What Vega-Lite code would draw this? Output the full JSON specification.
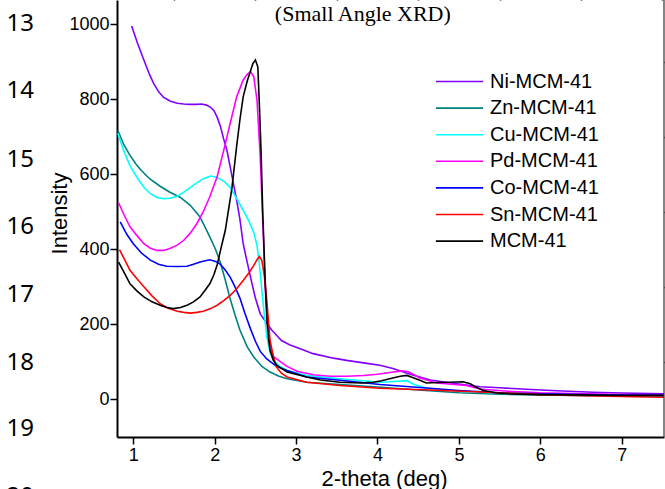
{
  "$schema": "https://vega.github.io/schema/vega-lite/v6.json",
  "width": 547,
  "height": 437,
  "autosize": {"type": "none"},
  "padding": {"left": 117, "top": 0, "right": 1, "bottom": 52},
  "config": {"view": {"stroke": null}, "font": "Liberation Sans"},
  "datasets": {
    "xrd": [
      {"sample": "Ni-MCM-41", "two_theta": 0.98, "intensity": 995},
      {"sample": "Ni-MCM-41", "two_theta": 1.05, "intensity": 950},
      {"sample": "Ni-MCM-41", "two_theta": 1.13, "intensity": 904},
      {"sample": "Ni-MCM-41", "two_theta": 1.2, "intensity": 865},
      {"sample": "Ni-MCM-41", "two_theta": 1.25, "intensity": 842},
      {"sample": "Ni-MCM-41", "two_theta": 1.31, "intensity": 820},
      {"sample": "Ni-MCM-41", "two_theta": 1.37, "intensity": 805},
      {"sample": "Ni-MCM-41", "two_theta": 1.45, "intensity": 795},
      {"sample": "Ni-MCM-41", "two_theta": 1.54, "intensity": 789},
      {"sample": "Ni-MCM-41", "two_theta": 1.62, "intensity": 787},
      {"sample": "Ni-MCM-41", "two_theta": 1.7, "intensity": 786},
      {"sample": "Ni-MCM-41", "two_theta": 1.78, "intensity": 786},
      {"sample": "Ni-MCM-41", "two_theta": 1.84, "intensity": 787},
      {"sample": "Ni-MCM-41", "two_theta": 1.9, "intensity": 784},
      {"sample": "Ni-MCM-41", "two_theta": 1.95, "intensity": 778},
      {"sample": "Ni-MCM-41", "two_theta": 1.99, "intensity": 770},
      {"sample": "Ni-MCM-41", "two_theta": 2.03, "intensity": 752},
      {"sample": "Ni-MCM-41", "two_theta": 2.07, "intensity": 728},
      {"sample": "Ni-MCM-41", "two_theta": 2.11, "intensity": 694},
      {"sample": "Ni-MCM-41", "two_theta": 2.15, "intensity": 664},
      {"sample": "Ni-MCM-41", "two_theta": 2.19, "intensity": 620},
      {"sample": "Ni-MCM-41", "two_theta": 2.23, "intensity": 575},
      {"sample": "Ni-MCM-41", "two_theta": 2.27, "intensity": 531},
      {"sample": "Ni-MCM-41", "two_theta": 2.31, "intensity": 480},
      {"sample": "Ni-MCM-41", "two_theta": 2.35, "intensity": 415},
      {"sample": "Ni-MCM-41", "two_theta": 2.4, "intensity": 365},
      {"sample": "Ni-MCM-41", "two_theta": 2.44, "intensity": 326},
      {"sample": "Ni-MCM-41", "two_theta": 2.5, "intensity": 270},
      {"sample": "Ni-MCM-41", "two_theta": 2.56, "intensity": 228},
      {"sample": "Ni-MCM-41", "two_theta": 2.64, "intensity": 203},
      {"sample": "Ni-MCM-41", "two_theta": 2.7, "intensity": 185},
      {"sample": "Ni-MCM-41", "two_theta": 2.76, "intensity": 171},
      {"sample": "Ni-MCM-41", "two_theta": 2.82, "intensity": 157},
      {"sample": "Ni-MCM-41", "two_theta": 2.92, "intensity": 146},
      {"sample": "Ni-MCM-41", "two_theta": 3.05, "intensity": 135},
      {"sample": "Ni-MCM-41", "two_theta": 3.21, "intensity": 122},
      {"sample": "Ni-MCM-41", "two_theta": 3.46, "intensity": 110},
      {"sample": "Ni-MCM-41", "two_theta": 3.62, "intensity": 104},
      {"sample": "Ni-MCM-41", "two_theta": 3.87, "intensity": 96},
      {"sample": "Ni-MCM-41", "two_theta": 4.03, "intensity": 91},
      {"sample": "Ni-MCM-41", "two_theta": 4.2, "intensity": 82},
      {"sample": "Ni-MCM-41", "two_theta": 4.32, "intensity": 73},
      {"sample": "Ni-MCM-41", "two_theta": 4.42, "intensity": 66},
      {"sample": "Ni-MCM-41", "two_theta": 4.52, "intensity": 60},
      {"sample": "Ni-MCM-41", "two_theta": 4.65, "intensity": 52},
      {"sample": "Ni-MCM-41", "two_theta": 4.8, "intensity": 47},
      {"sample": "Ni-MCM-41", "two_theta": 5.0, "intensity": 41},
      {"sample": "Ni-MCM-41", "two_theta": 5.26, "intensity": 34},
      {"sample": "Ni-MCM-41", "two_theta": 5.5, "intensity": 31},
      {"sample": "Ni-MCM-41", "two_theta": 5.83, "intensity": 27},
      {"sample": "Ni-MCM-41", "two_theta": 6.2, "intensity": 23},
      {"sample": "Ni-MCM-41", "two_theta": 6.65, "intensity": 19},
      {"sample": "Ni-MCM-41", "two_theta": 7.0, "intensity": 17},
      {"sample": "Ni-MCM-41", "two_theta": 7.52, "intensity": 15},

      {"sample": "Zn-MCM-41", "two_theta": 0.81, "intensity": 717},
      {"sample": "Zn-MCM-41", "two_theta": 0.88, "intensity": 680},
      {"sample": "Zn-MCM-41", "two_theta": 0.96, "intensity": 650},
      {"sample": "Zn-MCM-41", "two_theta": 1.03, "intensity": 628},
      {"sample": "Zn-MCM-41", "two_theta": 1.09, "intensity": 612},
      {"sample": "Zn-MCM-41", "two_theta": 1.2, "intensity": 588},
      {"sample": "Zn-MCM-41", "two_theta": 1.33, "intensity": 568},
      {"sample": "Zn-MCM-41", "two_theta": 1.45, "intensity": 552},
      {"sample": "Zn-MCM-41", "two_theta": 1.58, "intensity": 538},
      {"sample": "Zn-MCM-41", "two_theta": 1.7, "intensity": 517},
      {"sample": "Zn-MCM-41", "two_theta": 1.82, "intensity": 486},
      {"sample": "Zn-MCM-41", "two_theta": 1.94, "intensity": 433},
      {"sample": "Zn-MCM-41", "two_theta": 2.01, "intensity": 400},
      {"sample": "Zn-MCM-41", "two_theta": 2.07, "intensity": 365},
      {"sample": "Zn-MCM-41", "two_theta": 2.13, "intensity": 318},
      {"sample": "Zn-MCM-41", "two_theta": 2.19, "intensity": 268},
      {"sample": "Zn-MCM-41", "two_theta": 2.25, "intensity": 225},
      {"sample": "Zn-MCM-41", "two_theta": 2.31, "intensity": 185},
      {"sample": "Zn-MCM-41", "two_theta": 2.4, "intensity": 140},
      {"sample": "Zn-MCM-41", "two_theta": 2.48, "intensity": 113},
      {"sample": "Zn-MCM-41", "two_theta": 2.58, "intensity": 88},
      {"sample": "Zn-MCM-41", "two_theta": 2.68, "intensity": 73},
      {"sample": "Zn-MCM-41", "two_theta": 2.79, "intensity": 62},
      {"sample": "Zn-MCM-41", "two_theta": 2.89, "intensity": 55},
      {"sample": "Zn-MCM-41", "two_theta": 3.13, "intensity": 46},
      {"sample": "Zn-MCM-41", "two_theta": 3.54, "intensity": 40},
      {"sample": "Zn-MCM-41", "two_theta": 4.0, "intensity": 33},
      {"sample": "Zn-MCM-41", "two_theta": 4.5, "intensity": 25},
      {"sample": "Zn-MCM-41", "two_theta": 5.0, "intensity": 18},
      {"sample": "Zn-MCM-41", "two_theta": 5.5, "intensity": 14},
      {"sample": "Zn-MCM-41", "two_theta": 6.0, "intensity": 12},
      {"sample": "Zn-MCM-41", "two_theta": 7.0, "intensity": 9},
      {"sample": "Zn-MCM-41", "two_theta": 7.52, "intensity": 8},

      {"sample": "Cu-MCM-41", "two_theta": 0.81, "intensity": 709},
      {"sample": "Cu-MCM-41", "two_theta": 0.88, "intensity": 664},
      {"sample": "Cu-MCM-41", "two_theta": 0.96, "intensity": 622},
      {"sample": "Cu-MCM-41", "two_theta": 1.05, "intensity": 590},
      {"sample": "Cu-MCM-41", "two_theta": 1.13, "intensity": 565},
      {"sample": "Cu-MCM-41", "two_theta": 1.21, "intensity": 548},
      {"sample": "Cu-MCM-41", "two_theta": 1.29, "intensity": 538},
      {"sample": "Cu-MCM-41", "two_theta": 1.37, "intensity": 535},
      {"sample": "Cu-MCM-41", "two_theta": 1.45, "intensity": 536},
      {"sample": "Cu-MCM-41", "two_theta": 1.54, "intensity": 541},
      {"sample": "Cu-MCM-41", "two_theta": 1.64, "intensity": 555},
      {"sample": "Cu-MCM-41", "two_theta": 1.74, "intensity": 571},
      {"sample": "Cu-MCM-41", "two_theta": 1.86, "intensity": 588},
      {"sample": "Cu-MCM-41", "two_theta": 1.95, "intensity": 595},
      {"sample": "Cu-MCM-41", "two_theta": 2.02, "intensity": 592},
      {"sample": "Cu-MCM-41", "two_theta": 2.07, "intensity": 587},
      {"sample": "Cu-MCM-41", "two_theta": 2.13, "intensity": 578},
      {"sample": "Cu-MCM-41", "two_theta": 2.19, "intensity": 565},
      {"sample": "Cu-MCM-41", "two_theta": 2.27, "intensity": 535},
      {"sample": "Cu-MCM-41", "two_theta": 2.35, "intensity": 504},
      {"sample": "Cu-MCM-41", "two_theta": 2.42, "intensity": 475},
      {"sample": "Cu-MCM-41", "two_theta": 2.48, "intensity": 445},
      {"sample": "Cu-MCM-41", "two_theta": 2.52, "intensity": 410},
      {"sample": "Cu-MCM-41", "two_theta": 2.55, "intensity": 360},
      {"sample": "Cu-MCM-41", "two_theta": 2.58, "intensity": 290},
      {"sample": "Cu-MCM-41", "two_theta": 2.61, "intensity": 225},
      {"sample": "Cu-MCM-41", "two_theta": 2.64, "intensity": 168},
      {"sample": "Cu-MCM-41", "two_theta": 2.68, "intensity": 125},
      {"sample": "Cu-MCM-41", "two_theta": 2.72, "intensity": 105},
      {"sample": "Cu-MCM-41", "two_theta": 2.8, "intensity": 88},
      {"sample": "Cu-MCM-41", "two_theta": 2.89, "intensity": 77},
      {"sample": "Cu-MCM-41", "two_theta": 3.13, "intensity": 64},
      {"sample": "Cu-MCM-41", "two_theta": 3.54, "intensity": 55},
      {"sample": "Cu-MCM-41", "two_theta": 4.03, "intensity": 46},
      {"sample": "Cu-MCM-41", "two_theta": 4.2, "intensity": 48},
      {"sample": "Cu-MCM-41", "two_theta": 4.36, "intensity": 50},
      {"sample": "Cu-MCM-41", "two_theta": 4.45, "intensity": 40},
      {"sample": "Cu-MCM-41", "two_theta": 4.6, "intensity": 30},
      {"sample": "Cu-MCM-41", "two_theta": 5.0, "intensity": 22},
      {"sample": "Cu-MCM-41", "two_theta": 5.5, "intensity": 17},
      {"sample": "Cu-MCM-41", "two_theta": 6.0, "intensity": 14},
      {"sample": "Cu-MCM-41", "two_theta": 7.0, "intensity": 10},
      {"sample": "Cu-MCM-41", "two_theta": 7.52, "intensity": 9},

      {"sample": "Pd-MCM-41", "two_theta": 0.82, "intensity": 524},
      {"sample": "Pd-MCM-41", "two_theta": 0.89, "intensity": 490},
      {"sample": "Pd-MCM-41", "two_theta": 0.96, "intensity": 460},
      {"sample": "Pd-MCM-41", "two_theta": 1.05, "intensity": 435},
      {"sample": "Pd-MCM-41", "two_theta": 1.13, "intensity": 415},
      {"sample": "Pd-MCM-41", "two_theta": 1.21, "intensity": 403},
      {"sample": "Pd-MCM-41", "two_theta": 1.29, "intensity": 397},
      {"sample": "Pd-MCM-41", "two_theta": 1.37, "intensity": 397},
      {"sample": "Pd-MCM-41", "two_theta": 1.45, "intensity": 402},
      {"sample": "Pd-MCM-41", "two_theta": 1.54, "intensity": 411},
      {"sample": "Pd-MCM-41", "two_theta": 1.62, "intensity": 424},
      {"sample": "Pd-MCM-41", "two_theta": 1.7, "intensity": 443},
      {"sample": "Pd-MCM-41", "two_theta": 1.78, "intensity": 468},
      {"sample": "Pd-MCM-41", "two_theta": 1.86, "intensity": 500},
      {"sample": "Pd-MCM-41", "two_theta": 1.94, "intensity": 540},
      {"sample": "Pd-MCM-41", "two_theta": 2.03, "intensity": 593},
      {"sample": "Pd-MCM-41", "two_theta": 2.07, "intensity": 628},
      {"sample": "Pd-MCM-41", "two_theta": 2.13, "intensity": 680},
      {"sample": "Pd-MCM-41", "two_theta": 2.19, "intensity": 735},
      {"sample": "Pd-MCM-41", "two_theta": 2.27, "intensity": 806},
      {"sample": "Pd-MCM-41", "two_theta": 2.35, "intensity": 851},
      {"sample": "Pd-MCM-41", "two_theta": 2.4, "intensity": 866},
      {"sample": "Pd-MCM-41", "two_theta": 2.44, "intensity": 873},
      {"sample": "Pd-MCM-41", "two_theta": 2.48, "intensity": 860},
      {"sample": "Pd-MCM-41", "two_theta": 2.52, "intensity": 797},
      {"sample": "Pd-MCM-41", "two_theta": 2.56, "intensity": 646},
      {"sample": "Pd-MCM-41", "two_theta": 2.6, "intensity": 424},
      {"sample": "Pd-MCM-41", "two_theta": 2.62, "intensity": 300},
      {"sample": "Pd-MCM-41", "two_theta": 2.65, "intensity": 200},
      {"sample": "Pd-MCM-41", "two_theta": 2.68, "intensity": 145},
      {"sample": "Pd-MCM-41", "two_theta": 2.72, "intensity": 115},
      {"sample": "Pd-MCM-41", "two_theta": 2.81, "intensity": 100},
      {"sample": "Pd-MCM-41", "two_theta": 2.89, "intensity": 88},
      {"sample": "Pd-MCM-41", "two_theta": 3.01, "intensity": 75},
      {"sample": "Pd-MCM-41", "two_theta": 3.21, "intensity": 66},
      {"sample": "Pd-MCM-41", "two_theta": 3.42, "intensity": 62},
      {"sample": "Pd-MCM-41", "two_theta": 3.62, "intensity": 62},
      {"sample": "Pd-MCM-41", "two_theta": 3.83, "intensity": 64},
      {"sample": "Pd-MCM-41", "two_theta": 4.0, "intensity": 67},
      {"sample": "Pd-MCM-41", "two_theta": 4.15, "intensity": 72},
      {"sample": "Pd-MCM-41", "two_theta": 4.3, "intensity": 76},
      {"sample": "Pd-MCM-41", "two_theta": 4.38, "intensity": 74},
      {"sample": "Pd-MCM-41", "two_theta": 4.45, "intensity": 66},
      {"sample": "Pd-MCM-41", "two_theta": 4.52, "intensity": 57},
      {"sample": "Pd-MCM-41", "two_theta": 4.73, "intensity": 44},
      {"sample": "Pd-MCM-41", "two_theta": 5.09, "intensity": 37},
      {"sample": "Pd-MCM-41", "two_theta": 5.26, "intensity": 28},
      {"sample": "Pd-MCM-41", "two_theta": 5.6, "intensity": 22},
      {"sample": "Pd-MCM-41", "two_theta": 6.0, "intensity": 18},
      {"sample": "Pd-MCM-41", "two_theta": 7.0, "intensity": 13},
      {"sample": "Pd-MCM-41", "two_theta": 7.52, "intensity": 11},

      {"sample": "Co-MCM-41", "two_theta": 0.84, "intensity": 473},
      {"sample": "Co-MCM-41", "two_theta": 0.92, "intensity": 440},
      {"sample": "Co-MCM-41", "two_theta": 1.0, "intensity": 415},
      {"sample": "Co-MCM-41", "two_theta": 1.1, "intensity": 390},
      {"sample": "Co-MCM-41", "two_theta": 1.21, "intensity": 371},
      {"sample": "Co-MCM-41", "two_theta": 1.31, "intensity": 360},
      {"sample": "Co-MCM-41", "two_theta": 1.41, "intensity": 355},
      {"sample": "Co-MCM-41", "two_theta": 1.54, "intensity": 354},
      {"sample": "Co-MCM-41", "two_theta": 1.66, "intensity": 355},
      {"sample": "Co-MCM-41", "two_theta": 1.74, "intensity": 360},
      {"sample": "Co-MCM-41", "two_theta": 1.82, "intensity": 366},
      {"sample": "Co-MCM-41", "two_theta": 1.94, "intensity": 372},
      {"sample": "Co-MCM-41", "two_theta": 2.02, "intensity": 367},
      {"sample": "Co-MCM-41", "two_theta": 2.07, "intensity": 360},
      {"sample": "Co-MCM-41", "two_theta": 2.13, "intensity": 345},
      {"sample": "Co-MCM-41", "two_theta": 2.19, "intensity": 326},
      {"sample": "Co-MCM-41", "two_theta": 2.25, "intensity": 300},
      {"sample": "Co-MCM-41", "two_theta": 2.31, "intensity": 270},
      {"sample": "Co-MCM-41", "two_theta": 2.37, "intensity": 230},
      {"sample": "Co-MCM-41", "two_theta": 2.44, "intensity": 188},
      {"sample": "Co-MCM-41", "two_theta": 2.5, "intensity": 155},
      {"sample": "Co-MCM-41", "two_theta": 2.56, "intensity": 128},
      {"sample": "Co-MCM-41", "two_theta": 2.64, "intensity": 108},
      {"sample": "Co-MCM-41", "two_theta": 2.76, "intensity": 88},
      {"sample": "Co-MCM-41", "two_theta": 2.89, "intensity": 77},
      {"sample": "Co-MCM-41", "two_theta": 3.13, "intensity": 60},
      {"sample": "Co-MCM-41", "two_theta": 3.54, "intensity": 51},
      {"sample": "Co-MCM-41", "two_theta": 4.03, "intensity": 40},
      {"sample": "Co-MCM-41", "two_theta": 4.44, "intensity": 33},
      {"sample": "Co-MCM-41", "two_theta": 5.0, "intensity": 24},
      {"sample": "Co-MCM-41", "two_theta": 5.5, "intensity": 18},
      {"sample": "Co-MCM-41", "two_theta": 6.0, "intensity": 15},
      {"sample": "Co-MCM-41", "two_theta": 7.0, "intensity": 12},
      {"sample": "Co-MCM-41", "two_theta": 7.52, "intensity": 11},

      {"sample": "Sn-MCM-41", "two_theta": 0.83, "intensity": 399},
      {"sample": "Sn-MCM-41", "two_theta": 0.9, "intensity": 370},
      {"sample": "Sn-MCM-41", "two_theta": 0.96, "intensity": 344},
      {"sample": "Sn-MCM-41", "two_theta": 1.05, "intensity": 320},
      {"sample": "Sn-MCM-41", "two_theta": 1.13, "intensity": 300},
      {"sample": "Sn-MCM-41", "two_theta": 1.23, "intensity": 276},
      {"sample": "Sn-MCM-41", "two_theta": 1.33, "intensity": 255},
      {"sample": "Sn-MCM-41", "two_theta": 1.43, "intensity": 243},
      {"sample": "Sn-MCM-41", "two_theta": 1.54, "intensity": 235},
      {"sample": "Sn-MCM-41", "two_theta": 1.62, "intensity": 232},
      {"sample": "Sn-MCM-41", "two_theta": 1.7, "intensity": 230},
      {"sample": "Sn-MCM-41", "two_theta": 1.78, "intensity": 232},
      {"sample": "Sn-MCM-41", "two_theta": 1.86, "intensity": 235},
      {"sample": "Sn-MCM-41", "two_theta": 1.95, "intensity": 242},
      {"sample": "Sn-MCM-41", "two_theta": 2.03, "intensity": 251},
      {"sample": "Sn-MCM-41", "two_theta": 2.11, "intensity": 263},
      {"sample": "Sn-MCM-41", "two_theta": 2.19, "intensity": 277},
      {"sample": "Sn-MCM-41", "two_theta": 2.27, "intensity": 295},
      {"sample": "Sn-MCM-41", "two_theta": 2.35, "intensity": 317},
      {"sample": "Sn-MCM-41", "two_theta": 2.42, "intensity": 337},
      {"sample": "Sn-MCM-41", "two_theta": 2.48, "intensity": 357},
      {"sample": "Sn-MCM-41", "two_theta": 2.52, "intensity": 372},
      {"sample": "Sn-MCM-41", "two_theta": 2.55, "intensity": 381},
      {"sample": "Sn-MCM-41", "two_theta": 2.58, "intensity": 370},
      {"sample": "Sn-MCM-41", "two_theta": 2.61, "intensity": 330},
      {"sample": "Sn-MCM-41", "two_theta": 2.64, "intensity": 264},
      {"sample": "Sn-MCM-41", "two_theta": 2.66, "intensity": 210},
      {"sample": "Sn-MCM-41", "two_theta": 2.68, "intensity": 157},
      {"sample": "Sn-MCM-41", "two_theta": 2.72, "intensity": 115},
      {"sample": "Sn-MCM-41", "two_theta": 2.76, "intensity": 86},
      {"sample": "Sn-MCM-41", "two_theta": 2.82, "intensity": 70},
      {"sample": "Sn-MCM-41", "two_theta": 2.89, "intensity": 60},
      {"sample": "Sn-MCM-41", "two_theta": 3.13, "intensity": 46},
      {"sample": "Sn-MCM-41", "two_theta": 3.54, "intensity": 37},
      {"sample": "Sn-MCM-41", "two_theta": 4.03, "intensity": 30},
      {"sample": "Sn-MCM-41", "two_theta": 4.64, "intensity": 25},
      {"sample": "Sn-MCM-41", "two_theta": 5.26, "intensity": 20},
      {"sample": "Sn-MCM-41", "two_theta": 6.0, "intensity": 13},
      {"sample": "Sn-MCM-41", "two_theta": 7.0, "intensity": 8},
      {"sample": "Sn-MCM-41", "two_theta": 7.52, "intensity": 6},

      {"sample": "MCM-41", "two_theta": 0.82, "intensity": 366},
      {"sample": "MCM-41", "two_theta": 0.9, "intensity": 333},
      {"sample": "MCM-41", "two_theta": 0.96, "intensity": 308},
      {"sample": "MCM-41", "two_theta": 1.05, "intensity": 288},
      {"sample": "MCM-41", "two_theta": 1.13, "intensity": 273},
      {"sample": "MCM-41", "two_theta": 1.23, "intensity": 260},
      {"sample": "MCM-41", "two_theta": 1.33, "intensity": 251},
      {"sample": "MCM-41", "two_theta": 1.41, "intensity": 245},
      {"sample": "MCM-41", "two_theta": 1.49, "intensity": 242},
      {"sample": "MCM-41", "two_theta": 1.58, "intensity": 245},
      {"sample": "MCM-41", "two_theta": 1.66, "intensity": 251},
      {"sample": "MCM-41", "two_theta": 1.74, "intensity": 260},
      {"sample": "MCM-41", "two_theta": 1.82, "intensity": 273},
      {"sample": "MCM-41", "two_theta": 1.88, "intensity": 290},
      {"sample": "MCM-41", "two_theta": 1.94, "intensity": 308},
      {"sample": "MCM-41", "two_theta": 1.99, "intensity": 332},
      {"sample": "MCM-41", "two_theta": 2.03, "intensity": 358},
      {"sample": "MCM-41", "two_theta": 2.08, "intensity": 405},
      {"sample": "MCM-41", "two_theta": 2.13, "intensity": 450},
      {"sample": "MCM-41", "two_theta": 2.17, "intensity": 505},
      {"sample": "MCM-41", "two_theta": 2.21, "intensity": 560},
      {"sample": "MCM-41", "two_theta": 2.27, "intensity": 675},
      {"sample": "MCM-41", "two_theta": 2.31, "intensity": 745},
      {"sample": "MCM-41", "two_theta": 2.35, "intensity": 806},
      {"sample": "MCM-41", "two_theta": 2.4, "intensity": 848},
      {"sample": "MCM-41", "two_theta": 2.44, "intensity": 875},
      {"sample": "MCM-41", "two_theta": 2.47, "intensity": 895},
      {"sample": "MCM-41", "two_theta": 2.5, "intensity": 904},
      {"sample": "MCM-41", "two_theta": 2.53, "intensity": 886},
      {"sample": "MCM-41", "two_theta": 2.55, "intensity": 780},
      {"sample": "MCM-41", "two_theta": 2.57, "intensity": 660},
      {"sample": "MCM-41", "two_theta": 2.59, "intensity": 500},
      {"sample": "MCM-41", "two_theta": 2.61, "intensity": 380},
      {"sample": "MCM-41", "two_theta": 2.62, "intensity": 320},
      {"sample": "MCM-41", "two_theta": 2.64, "intensity": 219},
      {"sample": "MCM-41", "two_theta": 2.66, "intensity": 165},
      {"sample": "MCM-41", "two_theta": 2.68, "intensity": 131},
      {"sample": "MCM-41", "two_theta": 2.72, "intensity": 105},
      {"sample": "MCM-41", "two_theta": 2.76, "intensity": 91},
      {"sample": "MCM-41", "two_theta": 2.89, "intensity": 73},
      {"sample": "MCM-41", "two_theta": 3.13, "intensity": 60},
      {"sample": "MCM-41", "two_theta": 3.3, "intensity": 52},
      {"sample": "MCM-41", "two_theta": 3.54, "intensity": 46},
      {"sample": "MCM-41", "two_theta": 3.8, "intensity": 44},
      {"sample": "MCM-41", "two_theta": 3.95, "intensity": 46},
      {"sample": "MCM-41", "two_theta": 4.05, "intensity": 50},
      {"sample": "MCM-41", "two_theta": 4.15, "intensity": 55},
      {"sample": "MCM-41", "two_theta": 4.28, "intensity": 62},
      {"sample": "MCM-41", "two_theta": 4.36, "intensity": 64},
      {"sample": "MCM-41", "two_theta": 4.44, "intensity": 58},
      {"sample": "MCM-41", "two_theta": 4.52, "intensity": 51},
      {"sample": "MCM-41", "two_theta": 4.6, "intensity": 44},
      {"sample": "MCM-41", "two_theta": 4.75, "intensity": 45},
      {"sample": "MCM-41", "two_theta": 4.9, "intensity": 46},
      {"sample": "MCM-41", "two_theta": 5.05, "intensity": 47},
      {"sample": "MCM-41", "two_theta": 5.14, "intensity": 42},
      {"sample": "MCM-41", "two_theta": 5.2, "intensity": 34},
      {"sample": "MCM-41", "two_theta": 5.3, "intensity": 24},
      {"sample": "MCM-41", "two_theta": 5.45, "intensity": 18},
      {"sample": "MCM-41", "two_theta": 5.63, "intensity": 15},
      {"sample": "MCM-41", "two_theta": 6.0, "intensity": 13},
      {"sample": "MCM-41", "two_theta": 7.0, "intensity": 11},
      {"sample": "MCM-41", "two_theta": 7.52, "intensity": 11}
    ],
    "linenums": [
      {"num": "13", "pos": 1000},
      {"num": "14", "pos": 821},
      {"num": "15", "pos": 637},
      {"num": "16", "pos": 459},
      {"num": "17", "pos": 277},
      {"num": "18", "pos": 98},
      {"num": "19", "pos": -80},
      {"num": "20", "pos": -259}
    ],
    "titlerow": [
      {"label": "(Small Angle XRD)", "tx": 3.82, "ty": 1008}
    ]
  },
  "layer": [
    {
      "data": {"name": "xrd"},
      "mark": {"type": "line", "strokeWidth": 1.6},
      "encoding": {
        "x": {
          "field": "two_theta", "type": "quantitative",
          "scale": {"domain": [0.8, 7.52], "nice": false, "zero": false},
          "axis": {
            "values": [1, 2, 3, 4, 5, 6, 7], "grid": false,
            "tickSize": 7, "tickWidth": 1.5, "tickColor": "black",
            "domainColor": "black", "domainWidth": 2,
            "labelFontSize": 18, "labelColor": "black", "labelPadding": 2, "labelFont": "Liberation Sans",
            "title": "2-theta (deg)", "titleFontSize": 22, "titleFontWeight": "normal", "titleColor": "black", "titleFont": "Liberation Sans",
            "titleX": 267, "titleY": 48, "titleBaseline": "alphabetic", "titleAlign": "center", "titleAnchor": null
          }
        },
        "y": {
          "field": "intensity", "type": "quantitative",
          "scale": {"domain": [-100, 1064], "nice": false, "zero": false},
          "axis": {
            "values": [0, 200, 400, 600, 800, 1000], "format": "d", "grid": false,
            "tickSize": 7, "tickWidth": 1.5, "tickColor": "black",
            "domainColor": "black", "domainWidth": 2,
            "labelFontSize": 18, "labelColor": "black", "labelPadding": 1, "labelFont": "Liberation Sans",
            "title": "Intensity", "titleFontSize": 22, "titleFontWeight": "normal", "titleColor": "black", "titleFont": "Liberation Sans",
            "titleX": -46, "titleY": 213, "titleBaseline": "bottom", "titleAlign": "center", "titleAngle": 270
          }
        },
        "color": {
          "field": "sample", "type": "nominal",
          "scale": {
            "domain": ["Ni-MCM-41", "Zn-MCM-41", "Cu-MCM-41", "Pd-MCM-41", "Co-MCM-41", "Sn-MCM-41", "MCM-41"],
            "range": ["#8000ff", "#008080", "#00ffff", "#ff00ff", "#0000ff", "#ff0000", "#000000"]
          },
          "legend": {
            "orient": "none", "legendX": 328, "legendY": 67, "title": null, "padding": 0,
            "symbolType": "M-1.75,0H1.75", "symbolSize": 729, "symbolStrokeWidth": 1.6,
            "labelFontSize": 20, "labelColor": "black", "labelFont": "Liberation Sans",
            "labelOffset": 16, "rowPadding": 1.6
          }
        }
      }
    },
    {
      "data": {"name": "xrd"},
      "mark": {"type": "point", "opacity": 0},
      "encoding": {
        "x": {
          "field": "two_theta", "type": "quantitative",
          "scale": {"domain": [0.8, 7.52], "nice": false, "zero": false},
          "axis": {
            "values": [1.5, 2.5, 3.5, 4.5, 5.5, 6.5, 7.5], "grid": false, "labels": false, "domain": false, "title": null,
            "tickSize": 4, "tickWidth": 1.5, "tickColor": "black"
          }
        },
        "y": {
          "field": "intensity", "type": "quantitative",
          "scale": {"domain": [-100, 1064], "nice": false, "zero": false},
          "axis": {
            "values": [100, 300, 500, 700, 900], "grid": false, "labels": false, "domain": false, "title": null,
            "tickSize": 4, "tickWidth": 1.5, "tickColor": "black"
          }
        }
      }
    },
    {
      "data": {"name": "titlerow"},
      "mark": {"type": "rule", "color": "#333333", "strokeWidth": 1.2},
      "encoding": {
        "x": {"datum": 7.52, "type": "quantitative", "scale": {"domain": [0.8, 7.52], "nice": false, "zero": false}, "axis": null}
      }
    },
    {
      "data": {"name": "titlerow"},
      "mark": {"type": "text", "font": "Liberation Serif", "fontSize": 22, "color": "black", "align": "center", "baseline": "alphabetic"},
      "encoding": {
        "x": {"field": "tx", "type": "quantitative", "scale": {"domain": [0.8, 7.52], "nice": false, "zero": false}, "axis": null},
        "y": {"field": "ty", "type": "quantitative", "scale": {"domain": [-100, 1064], "nice": false, "zero": false}, "axis": null},
        "text": {"field": "label"}
      }
    },
    {
      "data": {"name": "linenums"},
      "mark": {"type": "text", "font": "Noto Sans", "fontSize": 24, "color": "black", "align": "center", "baseline": "middle"},
      "encoding": {
        "x": {"datum": -0.39, "type": "quantitative", "scale": {"domain": [0.8, 7.52], "nice": false, "zero": false}, "axis": null},
        "y": {"field": "pos", "type": "quantitative", "scale": {"domain": [-100, 1064], "nice": false, "zero": false}, "axis": null},
        "text": {"field": "num"}
      }
    }
  ],
  "resolve": {"axis": {"x": "independent", "y": "independent"}}
}
